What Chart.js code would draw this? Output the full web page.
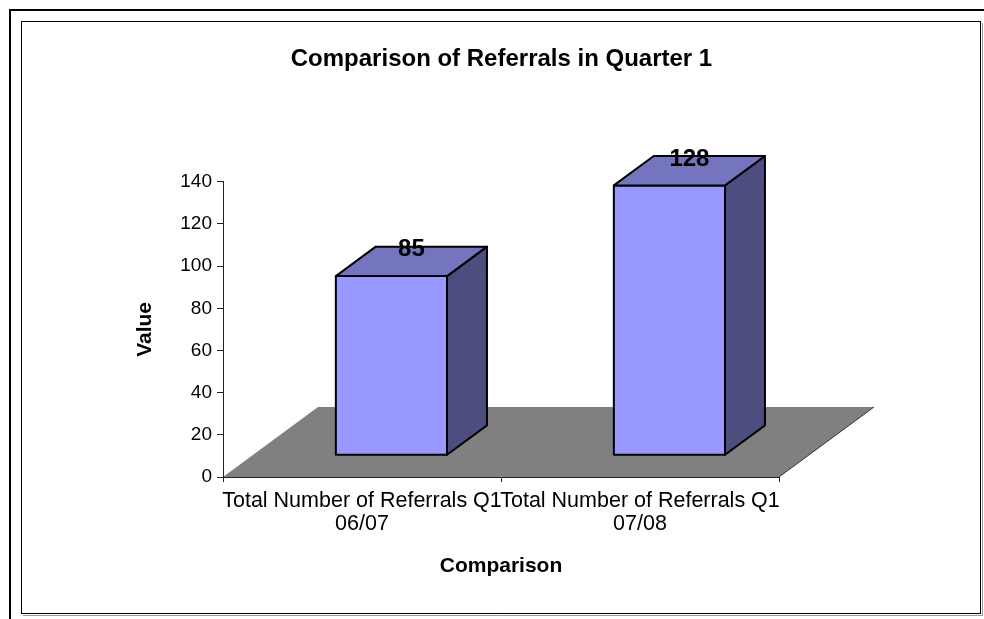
<!DOCTYPE html>
<html lang="en">
<head>
  <meta charset="UTF-8" />
  <title>Comparison of Referrals in Quarter 1</title>
  <style>
    body {
      margin: 0;
      background: #fff;
    }

    #wrap {
      position: relative;
      width: 984px;
      height: 619px;
    }
  </style>
</head>
<body>
  <div id="wrap">
    <canvas id="referralChart"></canvas>
  </div>

  <script src="https://cdn.jsdelivr.net/npm/chart.js"></script>
  <script>
    // values
    const categories = [
      ['Total Number of Referrals Q1', '06/07'],
      ['Total Number of Referrals Q1', '07/08']
    ];
    const referrals = [85, 128];
    const valueMin = 0;
    const valueMax = 140;
    const valueStep = 20;

    const FONT = "'Liberation Sans', Arial, sans-serif";

    // fake 3D: how far the floor goes back, and where the bars sit in that depth
    const DEPTH_X = 95;
    const DEPTH_Y = -70;
    const BAR_FRONT = 0.31;
    const BAR_BACK = 0.73;

    function poly(ctx, pts, fill) {
      ctx.beginPath();
      ctx.moveTo(pts[0][0], pts[0][1]);
      for (let i = 1; i < pts.length; i++) ctx.lineTo(pts[i][0], pts[i][1]);
      ctx.closePath();
      ctx.fillStyle = fill;
      ctx.fill();
      ctx.stroke();
    }

    const frameAndFloor = {
      id: 'frameAndFloor',
      afterLayout(chart) {
        // centre the title on the whole chart area box, not just the plot
        if (chart.titleBlock) {
          chart.titleBlock.left = 22;
          chart.titleBlock.right = 981;
        }
      },
      beforeDraw(chart) {
        const ctx = chart.ctx;
        const xs = chart.scales.x;
        const ys = chart.scales.y;
        ctx.save();

        // outer border, runs off the page on the right and bottom
        ctx.strokeStyle = '#000';
        ctx.lineWidth = 2;
        ctx.strokeRect(10, 10, 1000, 1000);

        // chart area border with a light shadow
        ctx.lineWidth = 1;
        ctx.strokeRect(21.5, 21.5, 959, 592);
        ctx.strokeStyle = '#9a9a9a';
        ctx.beginPath();
        ctx.moveTo(982.5, 23);
        ctx.lineTo(982.5, 615.5);
        ctx.lineTo(23, 615.5);
        ctx.stroke();

        // grey floor
        const y0 = ys.getPixelForValue(0);
        ctx.fillStyle = '#808080';
        ctx.beginPath();
        ctx.moveTo(xs.left, y0);
        ctx.lineTo(xs.right, y0);
        ctx.lineTo(xs.right + DEPTH_X, y0 + DEPTH_Y);
        ctx.lineTo(xs.left + DEPTH_X, y0 + DEPTH_Y);
        ctx.closePath();
        ctx.fill();
        ctx.strokeStyle = '#333';
        ctx.beginPath();
        ctx.moveTo(xs.right, y0);
        ctx.lineTo(xs.right + DEPTH_X, y0 + DEPTH_Y);
        ctx.stroke();

        ctx.restore();
      },
      afterDatasetsDraw(chart) {
        const ctx = chart.ctx;
        const meta = chart.getDatasetMeta(0);
        const fx = DEPTH_X * BAR_FRONT, fy = DEPTH_Y * BAR_FRONT;
        const bx = DEPTH_X * (BAR_BACK - BAR_FRONT), by = DEPTH_Y * (BAR_BACK - BAR_FRONT);
        ctx.save();
        ctx.strokeStyle = '#000';
        ctx.lineWidth = 2;
        ctx.lineJoin = 'round';

        const tops = [];
        meta.data.forEach(bar => {
          const p = bar.getProps(['x', 'y', 'base', 'width'], true);
          const l = p.x - p.width / 2 + fx;
          const r = p.x + p.width / 2 + fx;
          const t = p.y + fy;
          const b = p.base + fy;
          poly(ctx, [[l, t], [r, t], [r, b], [l, b]], '#9999ff');
          poly(ctx, [[r, t], [r + bx, t + by], [r + bx, b + by], [r, b]], '#4d4d80');
          poly(ctx, [[l, t], [r, t], [r + bx, t + by], [l + bx, t + by]], '#7575bf');
          tops.push([(l + r) / 2 + bx / 2, t + by]);
        });

        // value labels on the back edge of each bar top
        ctx.fillStyle = '#000';
        ctx.font = 'bold 24px ' + FONT;
        ctx.textAlign = 'center';
        ctx.textBaseline = 'middle';
        tops.forEach((pt, i) => ctx.fillText(String(referrals[i]), pt[0], pt[1] + 3));
        ctx.restore();
      }
    };

    new Chart(document.getElementById('referralChart'), {
      type: 'bar',
      data: {
        labels: categories,
        datasets: [{
          label: 'Value',
          data: referrals,
          backgroundColor: 'rgba(0,0,0,0)',
          borderWidth: 0,
          barPercentage: 0.4,
          categoryPercentage: 1.0
        }]
      },
      options: {
        responsive: true,
        maintainAspectRatio: false,
        animation: false,
        layout: {
          padding: { left: 133, right: 205, top: 22, bottom: 40 }
        },
        plugins: {
          legend: { display: false },
          tooltip: { enabled: false },
          title: {
            display: true,
            text: 'Comparison of Referrals in Quarter 1',
            color: '#000',
            font: { family: FONT, size: 24, weight: 'bold', lineHeight: 1.2 },
            padding: { top: 23, bottom: 108 }
          }
        },
        scales: {
          x: {
            offset: true,
            grid: { drawOnChartArea: false, offset: true, tickLength: 5, color: '#222' },
            border: { color: '#222' },
            ticks: {
              color: '#000',
              font: { family: FONT, size: 21.5, lineHeight: 1.05 },
              padding: 8,
              maxRotation: 0,
              minRotation: 0,
              autoSkip: false
            },
            title: {
              display: true,
              text: 'Comparison',
              color: '#000',
              font: { family: FONT, size: 21, weight: 'bold' },
              padding: 0
            },
            afterFit(scale) { scale.height = 102; }
          },
          y: {
            min: valueMin,
            max: valueMax,
            grid: { drawOnChartArea: false, tickLength: 6, color: '#222' },
            border: { color: '#222' },
            ticks: {
              stepSize: valueStep,
              color: '#000',
              font: { family: FONT, size: 19 },
              padding: 5
            },
            title: {
              display: true,
              text: 'Value',
              color: '#000',
              font: { family: FONT, size: 21, weight: 'bold' },
              padding: 0
            },
            afterFit(scale) { scale.width = 90; }
          }
        }
      },
      plugins: [frameAndFloor]
    });
  </script>
</body>
</html>
